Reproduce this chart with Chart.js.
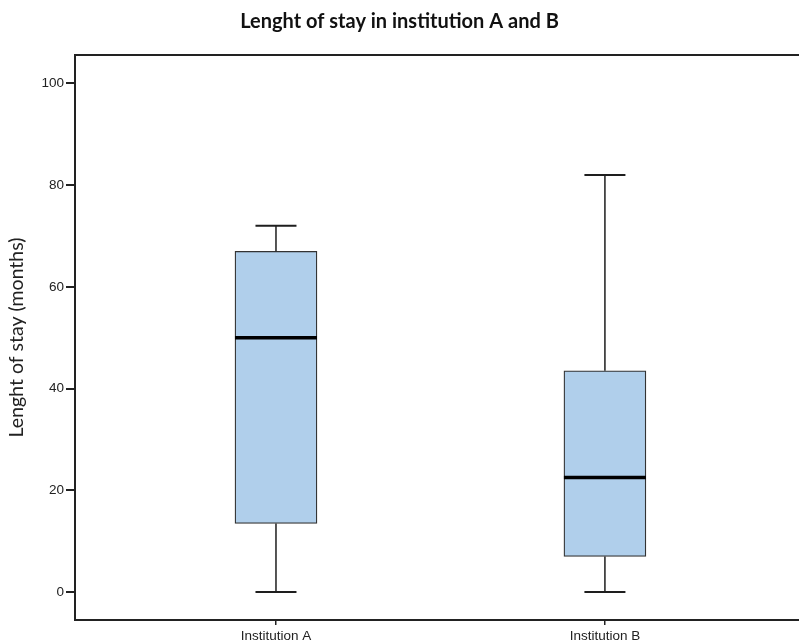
<!DOCTYPE html>
<html>
<head>
<meta charset="utf-8">
<script src="https://cdn.jsdelivr.net/npm/chart.js@4"></script>
<style>
html,body{margin:0;padding:0;background:#fff;}
#wrap{width:799px;height:644px;position:relative;}
</style>
</head>
<body>
<div id="wrap"><canvas id="c" width="799" height="644"></canvas></div>
<script>
const categories = ['Institution A', 'Institution B'];
const positions = [1, 2];
const mins = [0, 0];
const q1s = [13.5, 7];
const medians = [50, 22.5];
const q3s = [67, 43.5];
const maxs = [72, 82];
const yTicks = [0, 20, 40, 60, 80, 100];

const boxData = positions.map((p, i) => ({ x: p, y: [q1s[i], q3s[i]] }));
const BOX_W = 82;

const boxPlugin = {
  id: 'boxExtras',
  afterDatasetsDraw(chart) {
    const ctx = chart.ctx, xs = chart.scales.x, ys = chart.scales.y;
    ctx.save();
    positions.forEach((p, i) => {
      const cx = xs.getPixelForValue(p);
      const yMin = ys.getPixelForValue(mins[i]);
      const yMax = ys.getPixelForValue(maxs[i]);
      const yQ1 = ys.getPixelForValue(q1s[i]);
      const yQ3 = ys.getPixelForValue(q3s[i]);
      const yMed = ys.getPixelForValue(medians[i]);
      ctx.strokeStyle = '#1e1e1e';
      ctx.lineWidth = 1.5;
      ctx.beginPath();
      ctx.moveTo(cx, yQ3); ctx.lineTo(cx, yMax);
      ctx.moveTo(cx, yQ1); ctx.lineTo(cx, yMin);
      ctx.stroke();
      ctx.lineWidth = 2;
      ctx.beginPath();
      ctx.moveTo(cx - BOX_W / 4, yMax); ctx.lineTo(cx + BOX_W / 4, yMax);
      ctx.moveTo(cx - BOX_W / 4, yMin); ctx.lineTo(cx + BOX_W / 4, yMin);
      ctx.stroke();
      ctx.strokeStyle = '#000';
      ctx.lineWidth = 3.5;
      ctx.beginPath();
      ctx.moveTo(cx - BOX_W / 2, yMed); ctx.lineTo(cx + BOX_W / 2, yMed);
      ctx.stroke();
    });
    const a = chart.chartArea;
    ctx.strokeStyle = '#222';
    ctx.lineWidth = 2;
    ctx.beginPath();
    ctx.moveTo(a.left, a.top); ctx.lineTo(a.right, a.top);
    ctx.stroke();
    ctx.restore();
  }
};

new Chart(document.getElementById('c'), {
  type: 'bar',
  data: {
    datasets: [{
      data: boxData,
      backgroundColor: '#b0cfeb',
      borderColor: '#333',
      borderWidth: 1.3,
      borderSkipped: false,
      barThickness: BOX_W
    }]
  },
  options: {
    responsive: false,
    animation: false,
    layout: { padding: { left: 0, right: 0, top: 0, bottom: 0 } },
    plugins: {
      legend: { display: false },
      tooltip: { enabled: false },
      title: {
        display: true,
        text: 'Lenght of stay in institution A and B',
        font: { family: 'Lato', weight: 'bold', size: 20 },
        color: '#111',
        padding: { top: 10, bottom: 21 }
      }
    },
    scales: {
      x: {
        type: 'linear',
        offset: false,
        min: 0.389,
        max: 2.59,
        afterBuildTicks(s) { s.ticks = positions.map(v => ({ value: v })); },
        afterFit(s) { s.height = 24; },
        grid: { display: true, offset: false, drawOnChartArea: false, drawTicks: true, tickLength: 5, color: '#222', lineWidth: 1.5 },
        border: { display: true, color: '#222', width: 2 },
        ticks: {
          callback: (v) => categories[positions.indexOf(v)] || '',
          font: { family: 'Liberation Sans', size: 13.5 },
          color: '#222',
          padding: 3,
          maxRotation: 0
        }
      },
      y: {
        min: -5.5,
        max: 105.6,
        afterBuildTicks(s) { s.ticks = yTicks.map(v => ({ value: v })); },
        afterFit(s) { s.width = 75; },
        grid: { display: true, drawOnChartArea: false, drawTicks: true, tickLength: 9, color: '#222', lineWidth: 2 },
        border: { display: true, color: '#222', width: 2 },
        ticks: {
          font: { family: 'Liberation Sans', size: 13.5 },
          color: '#222',
          padding: 2
        },
        title: {
          display: true,
          text: 'Lenght of stay (months)',
          font: { family: 'Lato', size: 19.5 },
          color: '#222',
          padding: { top: 5, bottom: 0 }
        }
      }
    }
  },
  plugins: [boxPlugin]
});
</script>
</body>
</html>
